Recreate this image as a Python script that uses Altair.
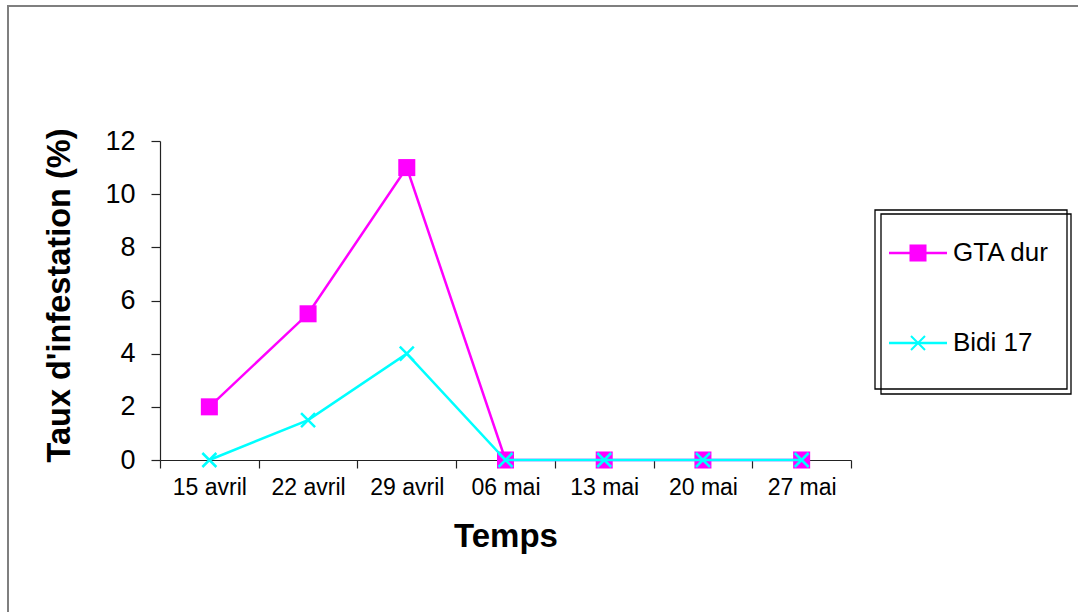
import altair as alt
import pandas as pd

categories = ["15 avril", "22 avril", "29 avril", "06 mai", "13 mai", "20 mai", "27 mai"]
gta_dur = [2, 5.5, 11, 0, 0, 0, 0]
bidi_17 = [0, 1.5, 4, 0, 0, 0, 0]
series_names = ["GTA dur", "Bidi 17"]
y_ticks = [0, 2, 4, 6, 8, 10, 12]

MAGENTA = "#FF00FF"
CYAN = "#00FFFF"
FONT = "Liberation Sans"
CROSS = "M-1,-1L1,1M-1,1L1,-1"

idx = list(range(len(categories)))
df_g = pd.DataFrame({"i": idx, "cat": categories, "v": gta_dur})
df_b = pd.DataFrame({"i": idx, "cat": categories, "v": bidi_17})

cat_array = "[" + ",".join("'" + c + "'" for c in categories) + "]"
label_expr = "datum.value % 1 == 0 ? " + cat_array + "[round(datum.value)] : ''"
boundaries = [i - 0.5 for i in range(len(categories) + 1)]
x_values = sorted(boundaries + idx)

xscale = alt.Scale(domain=[-0.5, len(categories) - 0.5], nice=False, zero=False)
yscale = alt.Scale(domain=[0, 12], nice=False)

x_axis = alt.Axis(orient="bottom", values=x_values, labelExpr=label_expr, tickSize=8,
                  tickOpacity={"condition": {"test": "datum.value % 1 != 0", "value": 1}, "value": 0},
                  domainColor="#222", tickColor="#222", domainWidth=1.2, tickWidth=1.2,
                  labelFont=FONT, labelFontSize=23, labelColor="#000", labelPadding=8,
                  labelOverlap=False, labelFlush=False, labelBound=False,
                  title="Temps", titleFont=FONT, titleFontSize=33,
                  titleFontWeight="bold", titleColor="#000", titlePadding=21, grid=False)
y_axis = alt.Axis(orient="left", values=y_ticks, tickSize=9, domainColor="#222", tickColor="#222",
                  domainWidth=1.2, tickWidth=1.2, labelFont=FONT, labelFontSize=27,
                  labelColor="#000", labelPadding=16, title="Taux d'infestation (%)",
                  titleFont=FONT, titleFontSize=32.5, titleFontWeight="bold",
                  titleColor="#000", titlePadding=28, titleY=154, grid=False)

X = alt.X("i:Q", scale=xscale, axis=x_axis)
Y = alt.Y("v:Q", scale=yscale, axis=y_axis)

g_line = alt.Chart(df_g).mark_line(color=MAGENTA, strokeWidth=2.5).encode(x=X, y=Y)
g_pts = alt.Chart(df_g).mark_point(shape="square", filled=True, color=MAGENTA, size=290, opacity=1).encode(x=X, y=Y)
b_line = alt.Chart(df_b).mark_line(color=CYAN, strokeWidth=2.5).encode(x=X, y=Y)
b_pts = alt.Chart(df_b).mark_point(shape=CROSS, filled=False, color=CYAN, size=196, strokeWidth=2.5, opacity=1).encode(x=X, y=Y)

# legend and frame (decorations placed in pixels relative to the plot area)
df_leg = pd.DataFrame({"series": series_names})
leg_rows_y = [112, 202]
box = pd.DataFrame({"a": [0]})
frame = alt.Chart(box).mark_rect(fill=None, stroke="#7f7f7f", strokeWidth=2).encode(
    x=alt.value(-152), x2=alt.value(1000), y=alt.value(-135), y2=alt.value(600))
leg_box1 = alt.Chart(box).mark_rect(fill=None, stroke="#000", strokeWidth=1.3).encode(
    x=alt.value(715), x2=alt.value(907), y=alt.value(69), y2=alt.value(248))
leg_box2 = alt.Chart(box).mark_rect(fill=None, stroke="#000", strokeWidth=1.3).encode(
    x=alt.value(721), x2=alt.value(911), y=alt.value(73), y2=alt.value(253))

leg_layers = []
colors = [MAGENTA, CYAN]
for k, name in enumerate(series_names):
    d = df_leg[df_leg["series"] == name]
    yv = alt.value(leg_rows_y[k])
    leg_layers.append(alt.Chart(d).mark_rule(strokeWidth=2.5, color=colors[k]).encode(
        x=alt.value(729), x2=alt.value(787), y=yv))
    if k == 0:
        leg_layers.append(alt.Chart(d).mark_point(shape="square", filled=True, color=MAGENTA,
                                                  size=290, opacity=1).encode(x=alt.value(758), y=yv))
    else:
        leg_layers.append(alt.Chart(d).mark_point(shape=CROSS, filled=False, color=CYAN, size=196,
                                                  strokeWidth=2, opacity=1).encode(x=alt.value(758), y=yv))
    leg_layers.append(alt.Chart(d).mark_text(align="left", baseline="middle", font=FONT, fontSize=26,
                                             color="#000").encode(x=alt.value(793), y=yv, text="series:N"))

chart = alt.layer(g_line, g_pts, b_line, b_pts, frame, leg_box1, leg_box2, *leg_layers).properties(
    width=691, height=319,
    background="white",
    autosize=alt.AutoSizeParams(type="none"),
    padding={"left": 160, "top": 141, "right": 227, "bottom": 152},
).configure_view(strokeWidth=0, stroke="transparent")

chart.save("out.html", embed_options={"renderer": "svg", "actions": False})
